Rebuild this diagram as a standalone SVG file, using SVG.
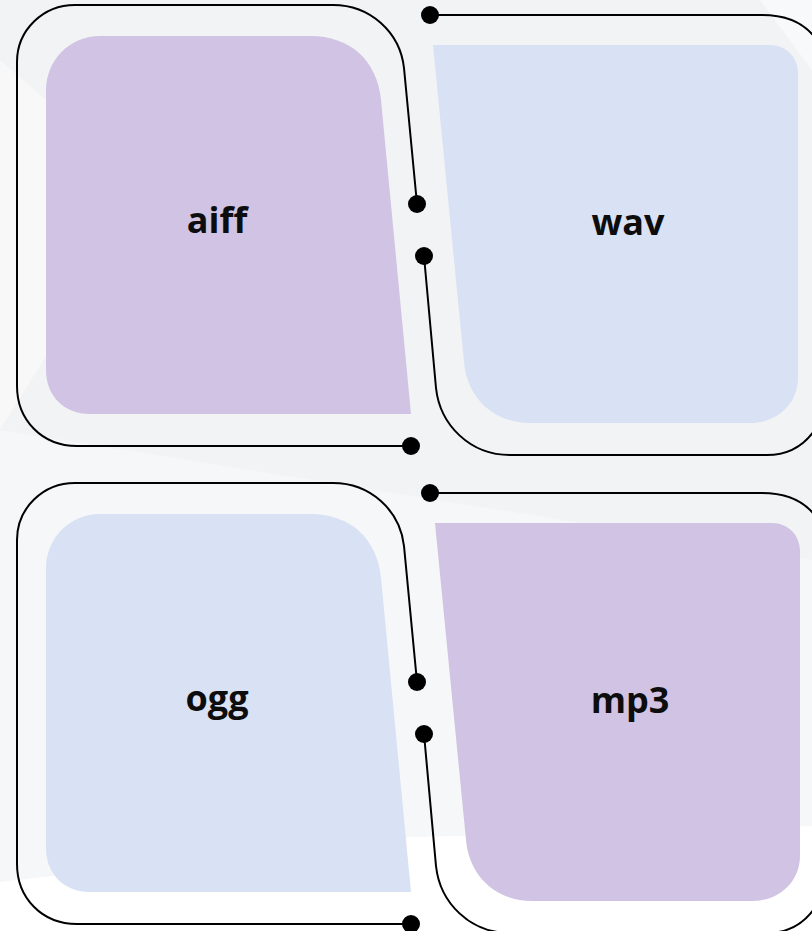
<svg xmlns="http://www.w3.org/2000/svg" width="812" height="931" viewBox="0 0 812 931">
  <style>
    .purple { fill: #d1c3e3; }
    .blue { fill: #d9e1f4; }
    .label { font-family: "Open Sans", "Noto Sans", "DejaVu Sans", sans-serif; font-weight: 700; font-size: 36px; fill: #0d0d0d; text-anchor: middle; }
    .line { fill: none; stroke: #000000; stroke-width: 2; }
    .dot { fill: #000000; }
  </style>
  <defs>
    <path id="leftShape" d="M 100 36 L 310 36 C 350 36 377 60 381 100 L 411 414 L 90 414 C 64 414 46 396 46 370 L 46 90 C 46 60 70 36 100 36 Z"/>
    <path id="rightShape" d="M 433 45 L 770 45 C 786 45 798 57 798 73 L 798 378 C 798 403 778 423 750 423 L 530 423 C 494 423 467 398 464 362 Z"/>
    <g id="conn">
      <path class="line" d="M 411 446 L 77 446 C 42 446 17 420 17 386 L 17 62 C 17 30 43 5 75 5 L 333 5 C 370 5 400 32 404 68 L 417 204"/>
      <path class="line" d="M 430 15 L 762 15 C 790 15 808 26 818 42"/>
      <path class="line" d="M 424 256 L 436 388 C 440 425 470 455 510 455 L 767 455 C 790 455 805 445 816 428"/>
      <circle class="dot" cx="417" cy="204" r="9"/>
      <circle class="dot" cx="411" cy="446" r="9"/>
      <circle class="dot" cx="430" cy="15" r="9"/>
      <circle class="dot" cx="424" cy="256" r="9"/>
    </g>
  </defs>
  <rect x="0" y="0" width="812" height="931" fill="#f2f3f5"/>
  <polygon points="0,60 150,190 0,430" fill="#f8f8f9"/>
  <polygon points="0,430 812,560 812,931 0,931" fill="#f6f7f8"/>
  <polygon points="760,0 812,0 812,70" fill="#f8f9fa"/>
  <polygon points="0,882 380,838 812,826 812,931 0,931" fill="#ffffff"/>

  <g id="aiff">
    <use href="#leftShape" class="purple"/>
    <text class="label" x="217" y="233">aiff</text>
  </g>
  <g id="wav">
    <use href="#rightShape" class="blue"/>
    <text class="label" x="628" y="235">wav</text>
  </g>
  <g id="ogg">
    <use href="#leftShape" class="blue" transform="translate(0,478)"/>
    <text class="label" x="217" y="711">ogg</text>
  </g>
  <g id="mp3">
    <use href="#rightShape" class="purple" transform="translate(2,478)"/>
    <text class="label" x="630" y="713">mp3</text>
  </g>

  <g id="connectors">
    <use href="#conn"/>
    <use href="#conn" transform="translate(0,478)"/>
  </g>
</svg>
